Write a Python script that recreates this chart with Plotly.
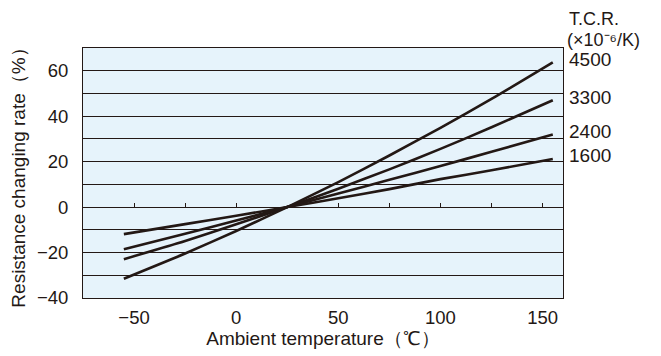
import plotly.graph_objects as go

temps = [-55, -25, 0, 25, 50, 75, 100, 125, 155]
tcr_4500 = [-31.5, -20.4, -10.5, 0, 11.0, 22.7, 34.9, 47.6, 63.7]
tcr_3300 = [-22.9, -14.9, -7.6, 0, 8.1, 16.6, 25.6, 35.1, 47.0]
tcr_2400 = [-18.5, -11.7, -5.9, 0, 6.0, 12.0, 18.1, 24.3, 31.9]
tcr_1600 = [-11.9, -7.5, -3.8, 0, 3.9, 7.9, 12.3, 16.2, 21.2]
series = [("4500", tcr_4500), ("3300", tcr_3300), ("2400", tcr_2400), ("1600", tcr_1600)]

x_ticks = [-50, 0, 50, 100, 150]
y_ticks = [-40, -20, 0, 20, 40, 60]
zero_ticks = [-50, -25, 0, 50, 75, 100, 125, 150]

X_RANGE = [-75, 160]
Y_RANGE = [-40, 70]

FONT = "Liberation Sans, Arial, Helvetica, sans-serif"
LINE_COLOR = "#231815"

fig = go.Figure()
for name, vals in series:
    fig.add_trace(go.Scatter(x=temps, y=vals, mode="lines", name=name,
                             line=dict(color=LINE_COLOR, width=2.6, shape="spline", smoothing=0.6),
                             showlegend=False, hoverinfo="skip"))

# page body has an 8px margin, so the figure is sized to fit the window
fig.update_layout(
    width=653, height=348,
    margin=dict(l=75, r=98, t=40, b=58, autoexpand=False),
    paper_bgcolor="white",
    plot_bgcolor="#e6f3fb",
    font=dict(family=FONT, size=19, color="#231815"),
    xaxis=dict(range=X_RANGE, tickvals=x_ticks, showgrid=False, zeroline=False,
               showline=True, linecolor="#231815", linewidth=1, mirror=True,
               ticks="", ticklabelstandoff=3, automargin=False,
               tickfont=dict(size=18.5),
               title=dict(text="Ambient temperature（℃）", standoff=4,
                          font=dict(size=19))),
    yaxis=dict(range=Y_RANGE, tickvals=y_ticks, showgrid=True,
               gridcolor="#231815", gridwidth=1, zeroline=False,
               showline=True, linecolor="#231815", linewidth=1, mirror=True,
               ticks="", ticklabelstandoff=10, automargin=False,
               tickfont=dict(size=18.5),
               minor=dict(showgrid=True, gridcolor="#231815", gridwidth=1, dtick=10),
               title=dict(text="Resistance changing rate（%）", standoff=6,
                          font=dict(size=19))),
    xaxis2=dict(range=X_RANGE, overlaying="x", anchor="free",
                position=(0 - Y_RANGE[0]) / (Y_RANGE[1] - Y_RANGE[0]),
                side="top", tickvals=zero_ticks, ticks="outside", ticklen=4,
                tickcolor="#231815", tickwidth=1, showticklabels=False,
                showline=False, showgrid=False, zeroline=False, automargin=False),
)
# invisible trace that activates xaxis2
fig.add_trace(go.Scatter(x=[X_RANGE[0]], y=[0], xaxis="x2", mode="markers",
                         marker=dict(opacity=0), showlegend=False, hoverinfo="skip"))

annotations = []
for name, vals in series:
    annotations.append(dict(text=name, x=1, xref="paper", xanchor="left", xshift=4,
                            y=vals[-1], yref="y", yanchor="middle", yshift=3,
                            showarrow=False, font=dict(size=19)))
annotations.append(dict(text="T.C.R.", x=1, xref="paper", xanchor="left", xshift=5,
                        y=1.16, yref="paper", yanchor="top", showarrow=False,
                        borderpad=0, font=dict(size=18)))
annotations.append(dict(text="(×10⁻⁶/K)", x=1, xref="paper", xanchor="left",
                        xshift=3, y=1.076, yref="paper", yanchor="top",
                        borderpad=0, showarrow=False, font=dict(size=18)))
fig.update_layout(annotations=annotations)

fig.write_html("out.html")
